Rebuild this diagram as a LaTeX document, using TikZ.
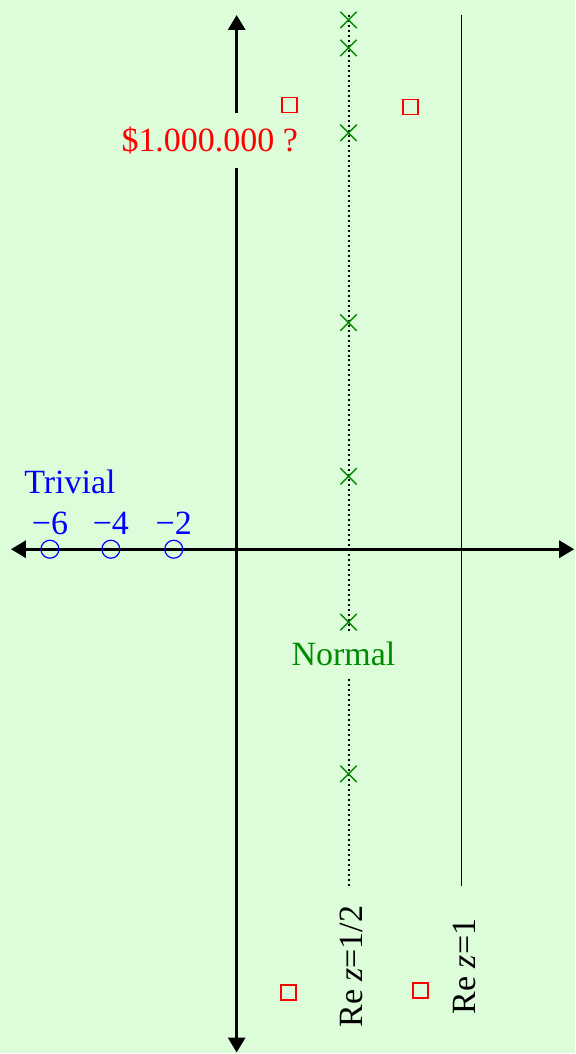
\documentclass[tikz,border=0pt]{standalone}
\usepackage{fontspec}
\setmainfont{Liberation Serif}
\usetikzlibrary{arrows.meta,shapes.misc}
\definecolor{bgreen}{RGB}{220,252,218}
\definecolor{zgreen}{RGB}{0,140,0}
\begin{document}
\begin{tikzpicture}[x=0.5pt,y=-0.5pt,font=\fontsize{17}{20}\selectfont,
  axis/.style={line width=1.5pt,{Triangle[length=7.5pt,width=8.5pt]}-{Triangle[length=7.5pt,width=8.5pt]}},
  zero/.style={circle,draw=blue,line width=0.6pt,minimum size=9pt,inner sep=0pt},
  nontriv/.style={cross out,draw=zgreen,line width=0.7pt,minimum size=7.5pt,inner sep=0pt},
  fake/.style={rectangle,draw=red,line width=0.7pt,minimum size=7.5pt,inner sep=0pt},
  tag/.style={fill=bgreen,inner sep=5pt}]
  \fill[bgreen] (0,0) rectangle (576,1054);
  % axes
  \coordinate (xw) at (11,550);
  \coordinate (xe) at (575,550);
  \coordinate (yn) at (237,15);
  \coordinate (ys) at (237,1054);
  \draw[axis] (xw) -- (xe);
  \draw[axis] (ys) -- (yn);
  % critical line and Re z=1
  \coordinate (ht) at (349,15);
  \coordinate (hb) at (349,887);
  \coordinate (ot) at (462,15);
  \coordinate (ob) at (462,887);
  \draw[line width=1pt,dash pattern=on 1pt off 1.5pt] (ht) -- (hb);
  \draw[line width=0.7pt] (ot) -- (ob);
  \node[rotate=90] (half) at (352,968) {Re \textit{z}=1/2};
  \node[rotate=90] (one) at (465,968) {Re \textit{z}=1};
  % labels
  \node[tag,text=red,inner sep=7pt] (prize) at (210,141) {\$1.000.000 ?};
  \node[tag,text=zgreen] (normal) at (344,655) {Normal};
  \node[text=blue] (trivial) at (70,483) {Trivial};
  % trivial zeros
  \node[zero] (z6) at (50,550) {};
  \node[zero] (z4) at (111,550) {};
  \node[zero] (z2) at (174,550) {};
  \node[text=blue] (l6) at (50,524) {−6};
  \node[text=blue] (l4) at (111,524) {−4};
  \node[text=blue] (l2) at (174,524) {−2};
  % zeros on the line
  \node[nontriv] (n1) at (349,20) {};
  \node[nontriv] (n2) at (349,48) {};
  \node[nontriv] (n3) at (349,133) {};
  \node[nontriv] (n4) at (349,323) {};
  \node[nontriv] (n5) at (349,477) {};
  \node[nontriv] (n6) at (349,623) {};
  \node[nontriv] (n7) at (349,775) {};
  % off the line
  \node[fake] (q1) at (290,105) {};
  \node[fake] (q2) at (411,107) {};
  \node[fake] (q3) at (289,994) {};
  \node[fake] (q4) at (421,992) {};
\end{tikzpicture}
\end{document}
